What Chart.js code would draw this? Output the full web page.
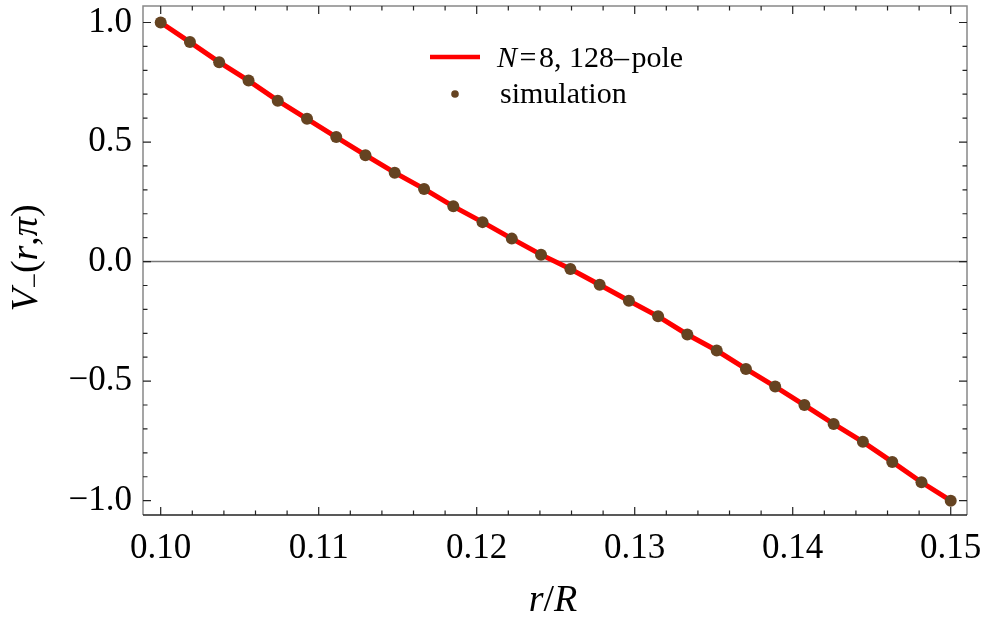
<!DOCTYPE html>
<html>
<head>
<meta charset="utf-8">
<script src="https://cdn.jsdelivr.net/npm/chart.js@4.4.1/dist/chart.umd.min.js"></script>
<style>
  html, body { margin: 0; padding: 0; background: #fff; }
  #wrap { width: 984px; height: 622px; }
</style>
</head>
<body>
<div id="wrap"><canvas id="plot" width="984" height="622"></canvas></div>
<script>
// r/R sample positions (28 points from 0.10 to 0.15)
const rValues = [
    0.10000, 0.10185, 0.10370, 0.10556, 0.10741, 0.10926, 0.11111,
    0.11296, 0.11481, 0.11667, 0.11852, 0.12037, 0.12222, 0.12407,
    0.12593, 0.12778, 0.12963, 0.13148, 0.13333, 0.13519, 0.13704,
    0.13889, 0.14074, 0.14259, 0.14444, 0.14630, 0.14815, 0.15000
];
// simulated V_-(r, pi)
const simValues = [
    1.000, 0.918, 0.834, 0.757, 0.673, 0.597, 0.521,
    0.445, 0.372, 0.304, 0.231, 0.165, 0.096, 0.029,
   -0.031, -0.097, -0.164, -0.229, -0.305, -0.372, -0.449,
   -0.523, -0.600, -0.679, -0.754, -0.838, -0.923, -1.000
];
// N=8, 128-pole curve
const poleValues = simValues.slice();

const xTicks = [0.10, 0.11, 0.12, 0.13, 0.14, 0.15];
const yTicks = [-1.0, -0.5, 0.0, 0.5, 1.0];
const xMinorStep = 0.002;
const yMinorStep = 0.1;

const SERIF = "'Liberation Serif', 'Times New Roman', serif";

function fmtY(v) {
    const s = Math.abs(v).toFixed(1);
    return v < 0 ? '\u2212' + s : s;
}

// draw a run of [text, italic, sizeScale, dy] pieces
function drawRuns(ctx, runs, size, x, y, align) {
    const widths = runs.map(r => {
        ctx.font = (r[1] ? 'italic ' : '') + Math.round(size * (r[2] || 1)) + 'px ' + SERIF;
        return ctx.measureText(r[0]).width;
    });
    const total = widths.reduce((a, b) => a + b, 0);
    let cx = align === 'center' ? x - total / 2 : x;
    ctx.textAlign = 'left';
    ctx.textBaseline = 'alphabetic';
    runs.forEach((r, i) => {
        ctx.font = (r[1] ? 'italic ' : '') + Math.round(size * (r[2] || 1)) + 'px ' + SERIF;
        ctx.fillText(r[0], cx, y + (r[3] || 0));
        cx += widths[i];
    });
}

// no label overhang padding, keep the plot frame where the reference has it
function noPad(scale) {
    scale.paddingLeft = 0;
    scale.paddingRight = 0;
    scale.paddingTop = 0;
    scale.paddingBottom = 0;
}

const framePlugin = {
    id: 'frame',
    beforeDatasetsDraw(chart) {
        const { ctx, chartArea: a, scales: { y } } = chart;
        ctx.save();
        // zero line
        const y0 = y.getPixelForValue(0);
        ctx.strokeStyle = '#777';
        ctx.lineWidth = 1.5;
        ctx.beginPath();
        ctx.moveTo(a.left, y0);
        ctx.lineTo(a.right, y0);
        ctx.stroke();
        ctx.restore();
    },
    afterDraw(chart) {
        const { ctx, chartArea: a, scales: { x, y } } = chart;
        ctx.save();
        ctx.lineWidth = 1.5;
        // frame
        ctx.strokeStyle = '#888';
        ctx.beginPath();
        ctx.moveTo(a.left, a.bottom);
        ctx.lineTo(a.left, a.top);
        ctx.lineTo(a.right, a.top);
        ctx.lineTo(a.right, a.bottom);
        ctx.stroke();
        ctx.strokeStyle = '#222';
        ctx.beginPath();
        ctx.moveTo(a.left, a.bottom);
        ctx.lineTo(a.right, a.bottom);
        ctx.stroke();

        // x ticks (bottom and top, inward)
        ctx.lineWidth = 1.2;
        ctx.strokeStyle = '#222';
        for (let i = 0; i <= 25; i++) {
            const v = 0.10 + i * xMinorStep;
            const px = x.getPixelForValue(v);
            const len = i % 5 === 0 ? 8 : 4.5;
            ctx.beginPath();
            ctx.moveTo(px, a.bottom);
            ctx.lineTo(px, a.bottom - len);
            ctx.moveTo(px, a.top);
            ctx.lineTo(px, a.top + len);
            ctx.stroke();
        }
        // y ticks (left and right, inward)
        for (let i = -10; i <= 10; i++) {
            const v = i * yMinorStep;
            const py = y.getPixelForValue(v);
            const len = i % 5 === 0 ? 8 : 4.5;
            ctx.beginPath();
            ctx.moveTo(a.left, py);
            ctx.lineTo(a.left + len, py);
            ctx.moveTo(a.right, py);
            ctx.lineTo(a.right - len, py);
            ctx.stroke();
        }

        // axis titles
        ctx.fillStyle = '#000';
        drawRuns(ctx, [['r', true], ['/', false], ['R', true]], 38, 553, 611, 'center');

        ctx.save();
        ctx.translate(37, 258);
        ctx.rotate(-Math.PI / 2);
        drawRuns(ctx, [
            ['V', true], ['\u2212', false, 0.7, 6], ['(', false], ['r', true],
            [',', false], ['\u03c0', true], [')', false]
        ], 38, 0, 0, 'center');
        ctx.restore();

        // legend
        ctx.strokeStyle = '#ff0000';
        ctx.lineWidth = 4.5;
        ctx.beginPath();
        ctx.moveTo(430, 57);
        ctx.lineTo(480, 57);
        ctx.stroke();
        drawRuns(ctx, [['N', true], ['\u200A=\u200A8, 128\u2013\u200Apole', false]], 30, 497, 67, 'left');

        ctx.fillStyle = '#654321';
        ctx.beginPath();
        ctx.arc(455, 94, 3.8, 0, Math.PI * 2);
        ctx.fill();
        ctx.fillStyle = '#000';
        drawRuns(ctx, [['simulation', false]], 30, 500, 103, 'left');

        ctx.restore();
    }
};

const ctx = document.getElementById('plot').getContext('2d');
new Chart(ctx, {
    type: 'scatter',
    data: {
        datasets: [
            {
                label: 'simulation',
                data: rValues.map((r, i) => ({ x: r, y: simValues[i] })),
                backgroundColor: '#654321',
                borderColor: '#654321',
                pointRadius: 6,
                pointBorderWidth: 0,
                showLine: false,
                order: 0
            },
            {
                label: 'N=8, 128-pole',
                data: rValues.map((r, i) => ({ x: r, y: poleValues[i] })),
                borderColor: '#ff0000',
                borderWidth: 5,
                pointRadius: 0,
                showLine: true,
                fill: false,
                tension: 0,
                order: 1
            }
        ]
    },
    options: {
        responsive: false,
        animation: false,
        layout: { autoPadding: false, padding: { top: 6, right: 17, left: 0, bottom: 0 } },
        plugins: {
            legend: { display: false },
            tooltip: { enabled: false }
        },
        scales: {
            x: {
                type: 'linear',
                min: 0.09888,
                max: 0.15103,
                afterBuildTicks: (scale) => { scale.ticks = xTicks.map(v => ({ value: v })); },
                afterFit: (scale) => { scale.height = 107; noPad(scale); },
                grid: { display: false, drawTicks: false },
                border: { display: false },
                ticks: {
                    color: '#000',
                    padding: 13,
                    maxRotation: 0,
                    font: { family: SERIF, size: 35 },
                    callback: (v) => Number(v).toFixed(2)
                }
            },
            y: {
                type: 'linear',
                min: -1.06,
                max: 1.069,
                afterBuildTicks: (scale) => { scale.ticks = yTicks.map(v => ({ value: v })); },
                afterFit: (scale) => { scale.width = 143; noPad(scale); },
                grid: { display: false, drawTicks: false },
                border: { display: false },
                ticks: {
                    color: '#000',
                    padding: 11,
                    font: { family: SERIF, size: 35 },
                    callback: (v) => fmtY(Number(v))
                }
            }
        }
    },
    plugins: [framePlugin]
});
</script>
</body>
</html>
